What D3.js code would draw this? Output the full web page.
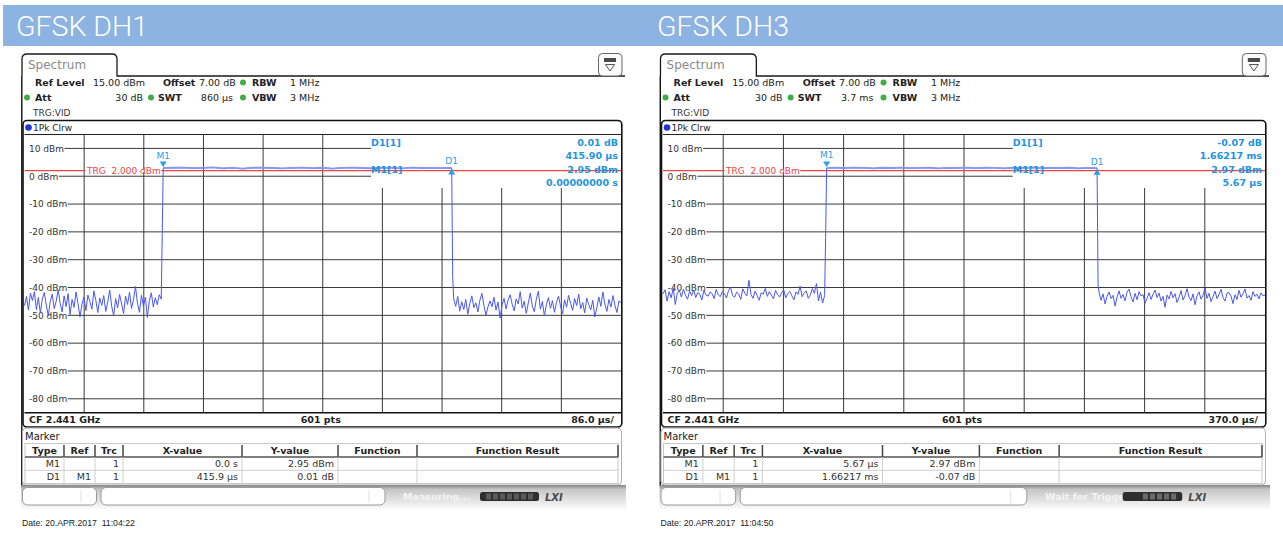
<!DOCTYPE html>
<html>
<head>
<meta charset="utf-8">
<script src="https://cdn.jsdelivr.net/npm/d3@7"></script>
<style>
  html, body { margin: 0; padding: 0; background: #fff; }
  svg { display: block; }
  text { white-space: pre; }
</style>
</head>
<body>
<svg id="chart" width="1283" height="533"></svg>
<script>
// ---- Measurement data: two zero-span burst captures (DH1 / DH3) ----
const titles = ["GFSK DH1", "GFSK DH3"];
const refLevel = 15;          // dBm, top of the level axis
const levelSpan = 100;        // dB shown on the level axis
const levelTicks = [10, 0, -10, -20, -30, -40, -50, -60, -70, -80];
const triggerLevel = 2.0;     // dBm
const offsetLabel = "7.00 dB";
const attLabel = "30 dB";
const rbwLabel = "1 MHz";
const vbwLabel = "3 MHz";
const swtLabels = ["860 µs", "3.7 ms"];
const sweepUs = [860, 3700];          // sweep time, µs
const pretriggerUs = [-200, -1000];   // start of the time axis, µs
const perDivLabels = ["86.0 µs/", "370.0 µs/"];
const pointsLabel = "601 pts";
const centerLabel = "CF 2.441 GHz";
const statusLabels = ["Measuring...", "Wait for Trigger..."];
const dateLabels = ["Date: 20.APR.2017  11:04:22", "Date: 20.APR.2017  11:04:50"];

// markers
const m1Time = [0, 5.67];             // µs
const m1Level = [2.95, 2.97];         // dBm
const d1Delta = [415.9, 1662.17];     // µs, relative to M1
const d1Rel = [0.01, -0.07];          // dB, relative to M1
const infoLines = [
  ["0.01 dB", "415.90 µs", "2.95 dBm", "0.00000000 s"],
  ["-0.07 dB", "1.66217 ms", "2.97 dBm", "5.67 µs"]
];
const tableHeader = ["Type", "Ref", "Trc", "X-value", "Y-value", "Function", "Function Result"];
const tableRowsDH1 = [["M1", "", "1", "0.0 s", "2.95 dBm"], ["D1", "M1", "1", "415.9 µs", "0.01 dB"]];
const tableRowsDH3 = [["M1", "", "1", "5.67 µs", "2.97 dBm"], ["D1", "M1", "1", "1.66217 ms", "-0.07 dB"]];

// trace 1 (Pk Clrw), DH1: noise before the burst, edge samples, burst top, noise after
const dh1Pre = [-46.5,-43.2,-48.1,-42.0,-44.7,-41.5,-47.9,-43.6,-49.2,-44.1,-41.8,-46.3,-50.2,-45.0,-42.4,-47.6,-44.9,-40.8,-45.7,-48.8,-43.0,-46.9,-42.2,-49.7,-44.3,-47.1,-41.6,-45.8,-50.6,-46.0,-43.4,-48.3,-42.7,-45.1,-47.8,-41.2,-44.6,-49.0,-43.8,-46.4,-42.9,-48.6,-45.3,-40.9,-46.8,-50.1,-44.0,-47.3,-42.5,-45.9,-49.4,-43.1,-46.1,-41.7,-47.5,-44.4,-39.6,-45.6,-48.9,-42.8,-46.7,-43.5,-50.8,-44.8,-41.9,-47.0,-43.7,-46.2,-42.6,-44.2];
const dh1Edges = [-21.0, -36.0];
const dh1Burst = [2.95,3.05,3.1,2.9,3.0,3.15,2.85,3.0,2.7,3.05,3.1,2.95,2.8,3.0,3.1,2.9,3.05,2.75,3.0,3.1,2.95,2.85,3.05,3.0,2.8,3.1,2.95,3.0,2.9,2.96];
const dh1Post = [-44.0,-46.8,-43.2,-48.5,-45.1,-47.9,-44.3,-49.6,-45.8,-43.0,-47.2,-45.5,-48.8,-44.6,-42.1,-46.4,-49.9,-47.0,-44.8,-46.9,-43.5,-48.1,-45.2,-51.0,-46.3,-43.9,-47.7,-44.5,-42.6,-46.0,-48.4,-44.1,-45.9,-41.5,-47.4,-44.9,-49.3,-45.6,-42.0,-46.6,-48.7,-44.2,-41.3,-47.8,-45.0,-50.2,-46.1,-43.6,-47.5,-44.7,-48.9,-45.3,-43.1,-46.7,-49.5,-44.4,-47.1,-42.8,-45.7,-48.2,-44.0,-46.5,-42.4,-47.6,-45.4,-49.1,-43.8,-46.2,-48.0,-44.6,-50.6,-47.3,-43.4,-46.8,-41.6,-45.9,-48.6,-44.3,-47.0,-42.9,-46.4,-49.0,-44.8,-45.5];

// trace 1 (Pk Clrw), DH3
const dh3Pre = [-42.3,-40.8,-44.9,-41.5,-43.7,-40.2,-46.1,-42.0,-41.1,-43.4,-40.6,-42.8,-44.2,-41.3,-42.9,-40.9,-43.6,-41.8,-42.4,-44.5,-41.0,-42.7,-43.1,-41.6,-42.2,-44.0,-40.7,-42.6,-43.3,-41.4,-42.1,-43.8,-41.2,-39.8,-42.9,-43.5,-41.7,-42.3,-44.3,-40.5,-42.0,-43.0,-37.4,-42.5,-43.9,-41.3,-42.8,-44.6,-41.9,-42.4,-40.3,-43.2,-41.5,-42.7,-44.1,-41.0,-42.6,-43.4,-41.8,-40.9,-43.7,-42.2,-41.4,-43.0,-44.4,-41.6,-42.5,-39.5,-43.3,-42.0,-41.2,-43.9,-42.7,-40.4,-42.1,-38.6,-44.8,-41.7,-45.6,-42.9];
const dh3Edges = [-22.0, -39.0];
const dh3Burst = [2.97,3.05,2.95,3.1,3.0,2.85,3.05,2.95,3.1,2.9,3.0,3.05,2.8,3.0,2.95,3.1,2.9,3.05,3.0,2.85,3.05,2.95,3.1,2.9,3.0,2.95,3.05,2.85,2.95,2.90];
const dh3Post = [-41.8,-44.6,-42.3,-45.9,-43.1,-41.6,-44.0,-42.8,-46.7,-43.4,-41.2,-43.9,-42.5,-44.8,-41.7,-40.6,-43.3,-45.2,-42.1,-44.4,-41.5,-43.0,-42.6,-45.7,-43.8,-41.9,-44.3,-42.4,-40.9,-43.6,-42.0,-44.9,-43.2,-47.1,-42.7,-44.1,-41.4,-43.7,-42.2,-45.4,-43.5,-41.1,-44.5,-42.9,-40.4,-43.4,-44.7,-42.3,-46.2,-43.0,-41.6,-44.2,-42.8,-40.2,-43.9,-42.1,-45.1,-43.3,-41.3,-44.0,-42.5,-40.7,-43.6,-44.9,-42.0,-41.8,-43.1,-45.8,-42.6,-44.3,-41.0,-43.5,-42.2,-40.5,-43.8,-42.9,-44.6,-41.5,-43.2,-42.4,-44.1,-41.9,-43.0,-42.7];

const traces = [
  { pre: dh1Pre, edges: dh1Edges, burst: dh1Burst, post: dh1Post, rows: tableRowsDH1 },
  { pre: dh3Pre, edges: dh3Edges, burst: dh3Burst, post: dh3Post, rows: tableRowsDH3 }
];

// ---- Drawing ----
const SANS = "'DejaVu Sans', Verdana, sans-serif";
const C_TRACE = "#4a58f2", C_MARK = "#2a9ee8", C_GRID = "#3a3a3a", C_TRG = "#ee4444";
const layout = { left: [24.5, 663], right: [621, 1265], titleX: [16, 657] };
const PLOT_TOP = 134.5, PLOT_BOTTOM = 412.7, INFO_BOTTOM = 188;

const svg = d3.select("#chart");
const defs = svg.append("defs");
const grad = defs.append("linearGradient").attr("id", "statusGrad")
  .attr("x1", 0).attr("y1", 0).attr("x2", 0).attr("y2", 1);
grad.append("stop").attr("offset", "0%").attr("stop-color", "#858585");
grad.append("stop").attr("offset", "18%").attr("stop-color", "#c6c6c6");
grad.append("stop").attr("offset", "100%").attr("stop-color", "#fafafa");

function txt(g, x, y, s, o = {}) {
  return g.append("text").attr("x", x).attr("y", y)
    .attr("font-family", o.family || SANS)
    .attr("font-size", o.size || 9)
    .attr("font-weight", o.weight || "normal")
    .attr("font-style", o.style || "normal")
    .attr("fill", o.fill || "#222")
    .attr("text-anchor", o.anchor || "start")
    .text(s);
}
function hline(g, x1, x2, y, stroke, w) {
  g.append("line").attr("x1", x1).attr("x2", x2).attr("y1", y).attr("y2", y)
    .attr("stroke", stroke).attr("stroke-width", w);
}
function vline(g, x, y1, y2, stroke, w) {
  g.append("line").attr("x1", x).attr("x2", x).attr("y1", y1).attr("y2", y2)
    .attr("stroke", stroke).attr("stroke-width", w);
}

// title band
svg.append("rect").attr("x", 3).attr("y", 5).attr("width", 1280).attr("height", 41).attr("fill", "#8db3e2");

function buildTrace(tr, t0, sweep, tM, tD) {
  const dt = sweep / 600, t1 = t0 + sweep, pts = [];
  const spread = (vals, a, b) => vals.forEach((v, i) => pts.push({ t: a + (b - a) * i / (vals.length - 1), v }));
  spread(tr.pre, t0, tM - 2 * dt);
  pts.push({ t: tM - dt, v: tr.edges[0] });
  spread(tr.burst, tM, tD);
  pts.push({ t: tD + dt, v: tr.edges[1] });
  spread(tr.post, tD + 2 * dt, t1);
  return pts;
}

function drawPanel(p) {
  const L = layout.left[p], R = layout.right[p];
  const s = (R - L) / 596.5;
  const X = v => L + (v - 24.5) * s;
  const g = svg.append("g");
  const B = { weight: "bold", size: 9.5 };
  const N = { size: 9.5 };

  txt(svg, layout.titleX[p], 36, titles[p], { family: "Roboto", size: 28.5, weight: 300, fill: "#ffffff" });

  // window tab and frame
  g.append("path")
    .attr("d", `M${X(22)},76 V59 Q${X(22)},54 ${X(27)},54 H${X(112)} Q${X(117)},54 ${X(117)},59 V76 H${X(625)}`)
    .attr("fill", "none").attr("stroke", "#1a1a1a").attr("stroke-width", 1.3);
  vline(g, X(21.8), 76, 486, "#111", 1.4);
  txt(g, X(28), 69, "Spectrum", { size: 12, fill: "#8a8a8a" });

  // menu icon
  g.append("rect").attr("x", X(598.5)).attr("y", 53.5).attr("width", X(622) - X(598.5)).attr("height", 22.5)
    .attr("rx", 4).attr("fill", "#fbfbfb").attr("stroke", "#666").attr("stroke-width", 1);
  g.append("rect").attr("x", X(604)).attr("y", 58).attr("width", X(616) - X(604)).attr("height", 4)
    .attr("fill", "#4a4a4a");
  g.append("path").attr("d", `M${X(605.5)},64.5 H${X(614.5)} L${X(610)},71 Z`)
    .attr("fill", "none").attr("stroke", "#555").attr("stroke-width", 1);

  // settings
  const dot = (cx, cy) => g.append("circle").attr("cx", cx).attr("cy", cy).attr("r", 3).attr("fill", "#3fae49");
  const r1 = 86, r2 = 101;
  txt(g, X(35), r1, "Ref Level", B);
  txt(g, X(93), r1, refLevel.toFixed(2) + " dBm", N);
  txt(g, X(163), r1, "Offset", B);
  txt(g, X(199), r1, offsetLabel, N);
  dot(X(243), r1 - 3.5);
  txt(g, X(252), r1, "RBW", B);
  txt(g, X(290), r1, rbwLabel, N);
  dot(X(27), r2 - 3.5);
  txt(g, X(35), r2, "Att", B);
  txt(g, X(143), r2, attLabel, Object.assign({ anchor: "end" }, N));
  dot(X(151), r2 - 3.5);
  txt(g, X(158), r2, "SWT", B);
  txt(g, X(233), r2, swtLabels[p], Object.assign({ anchor: "end" }, N));
  dot(X(243), r2 - 3.5);
  txt(g, X(252), r2, "VBW", B);
  txt(g, X(290), r2, vbwLabel, N);
  txt(g, X(33), 116, "TRG:VID", { size: 9, fill: "#333" });

  // diagram frame
  g.append("rect").attr("x", X(23)).attr("y", 120.5).attr("width", R + 0.8 - X(23)).attr("height", 306.5)
    .attr("rx", 4).attr("fill", "none").attr("stroke", "#111").attr("stroke-width", 1.6);
  g.append("circle").attr("cx", X(28.5)).attr("cy", 127.5).attr("r", 3.3).attr("fill", "#1f35d6");
  txt(g, X(33), 131, "1Pk Clrw", { size: 9, fill: "#222" });
  hline(g, L, R, PLOT_TOP, "#222", 1);
  hline(g, L, R, PLOT_BOTTOM, "#111", 1.5);

  const x = d3.scaleLinear().domain([pretriggerUs[p], pretriggerUs[p] + sweepUs[p]]).range([L, R]);
  const y = d3.scaleLinear().domain([refLevel - levelSpan, refLevel]).range([PLOT_BOTTOM, PLOT_TOP]);
  const infoLeft = X(371);

  // level grid with inline labels
  levelTicks.forEach(v => {
    const yy = y(v);
    const t = txt(g, X(29), yy + 3.3, v + " dBm", { size: 9, fill: "#333" });
    const w = t.node().getComputedTextLength();
    hline(g, X(29) + w + 0.5, yy < INFO_BOTTOM ? infoLeft : R, yy, C_GRID, 1);
  });
  // time grid, one line per division
  d3.range(1, 10).forEach(i => {
    const xx = x(pretriggerUs[p] + i * sweepUs[p] / 10);
    vline(g, xx, xx > infoLeft ? INFO_BOTTOM : PLOT_TOP, PLOT_BOTTOM, C_GRID, 1);
  });

  // trigger level line
  const yT = y(triggerLevel);
  hline(g, L, R, yT, C_TRG, 1.2);
  const trg = txt(g, X(87), yT + 3.2, "TRG  " + triggerLevel.toFixed(3) + " dBm", { size: 9, fill: C_TRG });
  const bb = trg.node().getBBox();
  g.insert("rect", () => trg.node()).attr("x", bb.x - 0.5).attr("y", yT - 1.5).attr("width", bb.width + 1)
    .attr("height", 3).attr("fill", "#fff");

  // trace
  const tM = m1Time[p], tD = m1Time[p] + d1Delta[p];
  const pts = buildTrace(traces[p], pretriggerUs[p], sweepUs[p], tM, tD);
  const line = d3.line().x(d => x(d.t)).y(d => y(d.v));
  g.append("path").datum(pts)
    .attr("d", line)
    .attr("fill", "none").attr("stroke", C_TRACE).attr("stroke-width", 1).attr("stroke-linejoin", "round");
  // burst top is rendered brighter and wider by the analyzer display
  g.append("path").datum(pts.filter(d => d.t >= tM && d.t <= tD))
    .attr("d", line)
    .attr("fill", "none").attr("stroke", "#8896f2").attr("stroke-width", 1.8).attr("stroke-linejoin", "round");

  // markers
  const mx = x(tM), my = y(m1Level[p]);
  g.append("path").attr("d", `M${mx - 3.5},${my - 6.5} H${mx + 3.5} L${mx},${my - 1} Z`).attr("fill", C_MARK);
  txt(g, mx, my - 9.5, "M1", { size: 9, fill: C_MARK, anchor: "middle" });
  const dx = x(tD), dy = y(m1Level[p] + d1Rel[p]);
  g.append("path").attr("d", `M${dx - 3.5},${dy + 6.5} H${dx + 3.5} L${dx},${dy + 1} Z`).attr("fill", C_MARK);
  txt(g, dx, dy - 3.5, "D1", { size: 9, fill: C_MARK, anchor: "middle" });

  // marker readout
  const MB = { size: 9.5, weight: "bold", fill: "#1f93e0" };
  txt(g, infoLeft, 145.5, "D1[1]", MB);
  txt(g, infoLeft, 172.5, "M1[1]", MB);
  infoLines[p].forEach((s2, i) => txt(g, R - 3, 145.5 + i * 13.5, s2, Object.assign({ anchor: "end" }, MB)));

  // footer of the diagram
  const FB = { size: 9.5, weight: "bold", fill: "#222" };
  txt(g, X(29), 423, centerLabel, FB);
  txt(g, (L + R) / 2 - 2, 423, pointsLabel, Object.assign({ anchor: "middle" }, FB));
  txt(g, R - 7, 423, perDivLabels[p], Object.assign({ anchor: "end" }, FB));

  // marker table
  g.append("rect").attr("x", X(22.5)).attr("y", 428).attr("width", X(621.5) - X(22.5)).attr("height", 57)
    .attr("rx", 4).attr("fill", "#fff").attr("stroke", "#b0b0b0").attr("stroke-width", 1);
  txt(g, X(25), 440, "Marker", { size: 10, fill: "#222" });
  const cols = [25, 64, 95, 123, 242, 338, 417, 618].map(X);
  g.append("rect").attr("x", cols[0]).attr("y", 443.5).attr("width", cols[7] - cols[0]).attr("height", 40)
    .attr("fill", "none").attr("stroke", "#c8c8c8").attr("stroke-width", 1);
  hline(g, cols[0], cols[7], 457, "#555", 1.5);
  hline(g, cols[0], cols[7], 470.3, "#cfcfcf", 1);
  cols.slice(1).forEach(cx => vline(g, cx, 445, 457, "#444", 1.5));
  cols.slice(1, 7).forEach(cx => vline(g, cx, 457, 483.5, "#cfcfcf", 1));
  tableHeader.forEach((h, i) => txt(g, (cols[i] + cols[i + 1]) / 2, 454, h,
    { size: 9.5, weight: "bold", fill: "#222", anchor: "middle" }));
  traces[p].rows.forEach((row, r) => row.forEach((c, i) => {
    if (c) txt(g, cols[i + 1] - 4, 467 + r * 13.3, c, { size: 9.5, fill: "#333", anchor: "end" });
  }));

  // status bar
  g.append("rect").attr("x", X(21)).attr("y", 485).attr("width", X(626) - X(21)).attr("height", 24)
    .attr("fill", "url(#statusGrad)");
  const box = (a, b) => g.append("rect").attr("x", X(a)).attr("y", 487.5).attr("width", X(b) - X(a))
    .attr("height", 17.5).attr("rx", 5).attr("fill", "#fff").attr("stroke", "#9a9a9a").attr("stroke-width", 1);
  box(22.5, 96.5);
  box(101, 385);
  vline(g, X(81), 490, 503, "#e0e0e0", 1);
  vline(g, X(369), 490, 503, "#e0e0e0", 1);
  txt(g, X(403), 500, statusLabels[p], { size: 9.5, weight: "bold", fill: "#f4f4f4" });
  g.append("rect").attr("x", X(480)).attr("y", 492).attr("width", X(539) - X(480)).attr("height", 9)
    .attr("rx", 2.5).attr("fill", "#2e2e2e");
  d3.range(7).forEach(i => g.append("rect").attr("x", X(486 + i * 7)).attr("y", 493.5).attr("width", 5)
    .attr("height", 6).attr("fill", p === 0 ? "#5a5a5a" : (i < 2 ? "#2e2e2e" : "#6a6a6a")));
  txt(g, X(545), 500.5, "LXI", { size: 10, weight: "bold", style: "italic", fill: "#4a4a4a" });

  // date stamp
  txt(g, X(22), 526, dateLabels[p], { family: "'Liberation Sans', Arial, sans-serif", size: 8.7, fill: "#222" });
}

[0, 1].forEach(drawPanel);
</script>
</body>
</html>
